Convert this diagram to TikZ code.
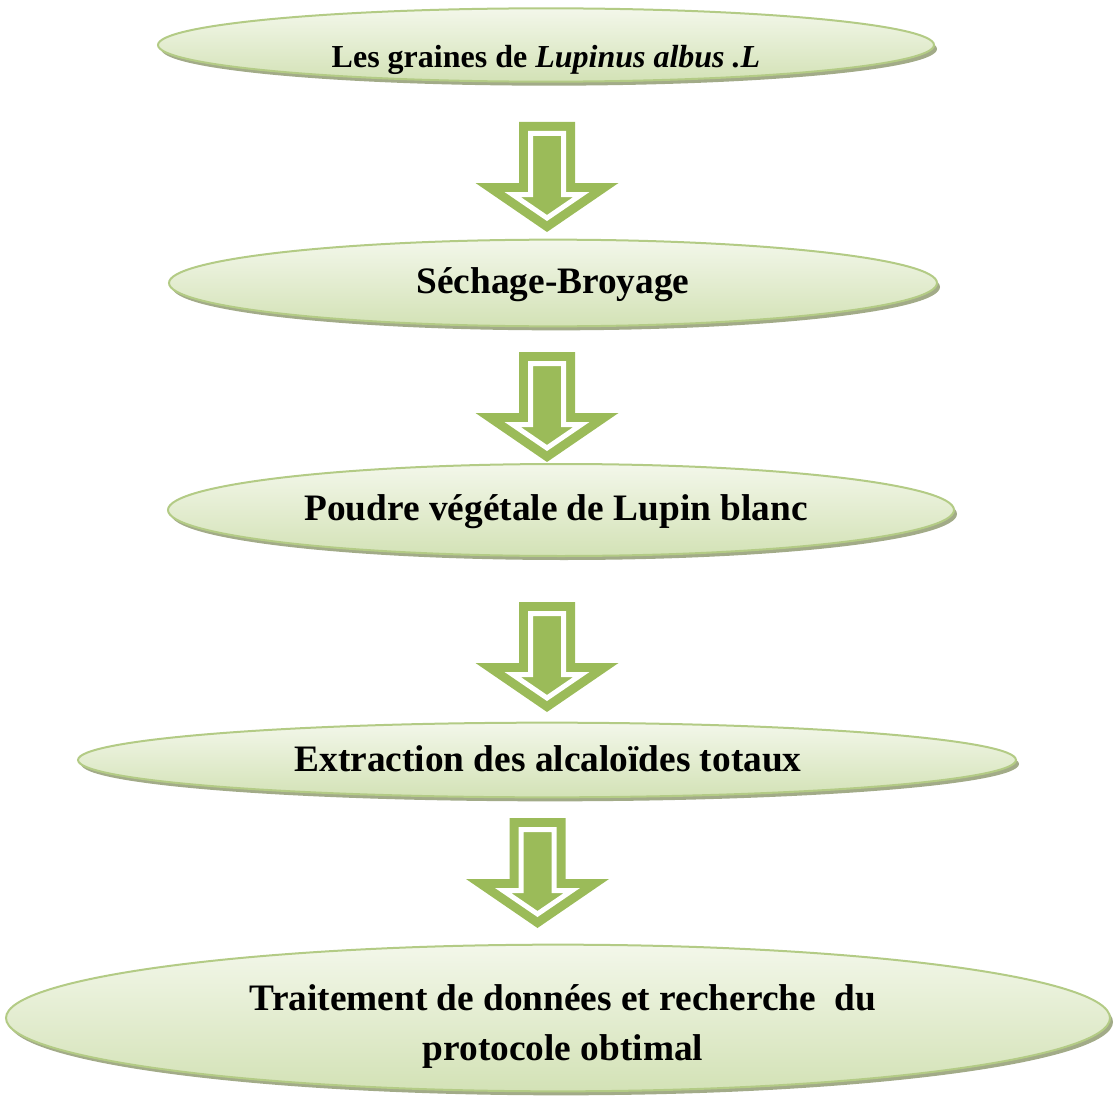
\documentclass[tikz,border=0pt]{standalone}
\usepackage{fontspec}
\setmainfont{Liberation Serif}
\usetikzlibrary{shapes.geometric}
\definecolor{arrgreen}{HTML}{9BBB59}
\definecolor{elltop}{HTML}{F3F7EA}
\definecolor{ellbot}{HTML}{D3E2B6}
\definecolor{ellrim}{HTML}{B3CB85}
\definecolor{ellshadow}{HTML}{A2AB88}
\tikzset{
  ellbox/.style={ellipse, inner sep=0pt, top color=elltop, bottom color=ellbot, draw=ellrim, line width=1.5pt},
  ellshade/.style={ellipse, inner sep=0pt, fill=ellshadow, draw=none},
  lbl/.style={font=\bfseries\fontsize{28}{37.5}\selectfont, align=center, inner sep=0pt},
}
% block arrow: #1 = centre x, #2 = top y
\newcommand{\blockarrow}[2]{%
  \fill[arrgreen] (#1-28,#2) -- (#1+28,#2) -- (#1+28,#2+61) -- (#1+71.5,#2+61)
     -- (#1,#2+110) -- (#1-71.5,#2+61) -- (#1-28,#2+61) -- cycle;
  \draw[white, line width=3.75pt, line join=miter, fill=arrgreen]
     (#1-16.5,#2+11.5) -- (#1+16.5,#2+11.5) -- (#1+16.5,#2+72.5) -- (#1+34.4,#2+72.5)
     -- (#1,#2+96) -- (#1-34.4,#2+72.5) -- (#1-16.5,#2+72.5) -- cycle;
}
\begin{document}
\begin{tikzpicture}[x=0.75pt, y=-0.75pt]
\useasboundingbox (0,0) rectangle (1115,1099);
% ellipses (shadow then body)
\node[ellshade, minimum width=582pt, minimum height=55pt] (s1) at (549,49) {};
\node[ellbox, minimum width=582pt, minimum height=55pt] (e1) at (546,45) {};
\node[ellshade, minimum width=576pt, minimum height=65pt] (s2) at (556,287) {};
\node[ellbox, minimum width=576pt, minimum height=65pt] (e2) at (553,283) {};
\node[ellshade, minimum width=589.5pt, minimum height=69pt] (s3) at (564,514) {};
\node[ellbox, minimum width=589.5pt, minimum height=69pt] (e3) at (561,510) {};
\node[ellshade, minimum width=703.5pt, minimum height=56pt] (s4) at (550,764) {};
\node[ellbox, minimum width=703.5pt, minimum height=56pt] (e4) at (547,760) {};
\node[ellshade, minimum width=828pt, minimum height=110pt] (s5) at (561,1022) {};
\node[ellbox, minimum width=828pt, minimum height=110pt] (e5) at (558,1018) {};
% texts
\node[lbl, font=\bfseries\fontsize{24}{30}\selectfont] (t1) at (546,60) {Les graines de \textit{Lupinus albus .L}};
\node[lbl] (t2) at (553,285) {Séchage-Broyage};
\node[lbl] (t3) at (556,512) {Poudre végétale de Lupin blanc};
\node[lbl] (t4) at (548,759) {Extraction des alcaloïdes totaux};
\node[lbl] (t5) at (563,1026) {Traitement de données et recherche\ \ du\\protocole obtimal};
% block arrows
\blockarrow{547}{122}
\blockarrow{547}{352}
\blockarrow{547}{602}
\blockarrow{537.5}{818}
\end{tikzpicture}
\end{document}
